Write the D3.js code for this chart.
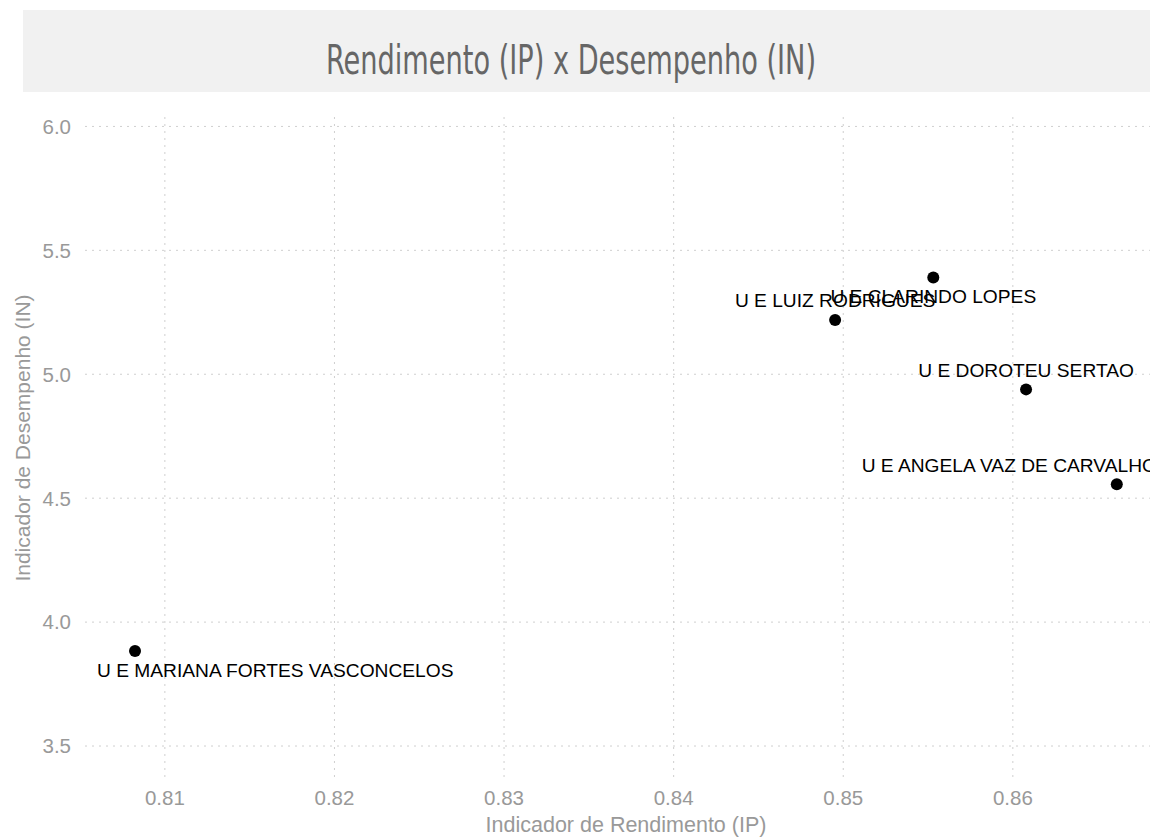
<!DOCTYPE html>
<html>
<head>
<meta charset="utf-8">
<script src="https://cdn.jsdelivr.net/npm/d3@7"></script>
<style>
  html, body { margin: 0; padding: 0; background: #fff; overflow: hidden; }
  svg { display: block; }
</style>
</head>
<body>
<svg id="chart" width="1150" height="837"></svg>
<script>
// ---- data ----
const schools = [
  "U E MARIANA FORTES VASCONCELOS",
  "U E LUIZ RODRIGUES",
  "U E CLARINDO LOPES",
  "U E DOROTEU SERTAO",
  "U E ANGELA VAZ DE CARVALHO"
];
const rendimentoIP = [0.80827, 0.84955, 0.85534, 0.86081, 0.86616];
const desempenhoIN = [3.881, 5.217, 5.388, 4.937, 4.554];
const labelSide = ["below", "above", "below", "above", "above"];
const xTicks = [0.81, 0.82, 0.83, 0.84, 0.85, 0.86];
const yTicks = [3.5, 4.0, 4.5, 5.0, 5.5, 6.0];
const xDomain = [0.80532, 0.86912];
const yDomain = [3.373, 6.036];
const titleText = "Rendimento (IP) x Desempenho (IN)";
const xTitle = "Indicador de Rendimento (IP)";
const yTitle = "Indicador de Desempenho (IN)";

// ---- layout ----
const W = 1150, H = 837;
const plot = { left: 85, right: 1167, top: 117, bottom: 777 };
const svg = d3.select("#chart");
const sans = "'Liberation Sans', Arial, Helvetica, sans-serif";

const x = d3.scaleLinear().domain(xDomain).range([plot.left, plot.right]);
const y = d3.scaleLinear().domain(yDomain).range([plot.bottom, plot.top]);

// title band
svg.append("rect").attr("x", 23).attr("y", 10).attr("width", W - 23).attr("height", 82)
  .attr("fill", "#f1f1f1");
svg.append("text").attr("x", 571).attr("y", 74).attr("text-anchor", "middle")
  .attr("font-family", "'Liberation Sans Narrow', 'DejaVu Sans Condensed', sans-serif")
  .attr("font-size", 41).attr("fill", "#666")
  .attr("textLength", 490).attr("lengthAdjust", "spacingAndGlyphs")
  .text(titleText);

// grid via axes
const gx = svg.append("g").attr("transform", `translate(0,${plot.bottom})`)
  .call(d3.axisBottom(x).tickValues(xTicks).tickSize(-(plot.bottom - plot.top)).tickFormat(d3.format(".2f")));
gx.select(".domain").remove();
gx.selectAll(".tick line").attr("stroke", "#cfcfcf").attr("stroke-dasharray", "2,5");
gx.selectAll(".tick text").attr("y", 28).attr("dy", 0)
  .attr("font-family", sans).attr("font-size", 20.5).attr("fill", "#999");

const gy = svg.append("g").attr("transform", `translate(${plot.left},0)`)
  .call(d3.axisLeft(y).tickValues(yTicks).tickSize(-(plot.right - plot.left)).tickFormat(d3.format(".1f")));
gy.select(".domain").remove();
gy.selectAll(".tick line").attr("stroke", "#cfcfcf").attr("stroke-dasharray", "2,5");
gy.selectAll(".tick text").attr("x", -14).attr("dy", "0.36em")
  .attr("font-family", sans).attr("font-size", 20.5).attr("fill", "#999");

// axis titles
svg.append("text").attr("x", 626).attr("y", 832).attr("text-anchor", "middle")
  .attr("font-family", sans).attr("font-size", 21.5).attr("fill", "#999").text(xTitle);
svg.append("text").attr("transform", "translate(30,438) rotate(-90)").attr("text-anchor", "middle")
  .attr("font-family", sans).attr("font-size", 21).attr("fill", "#999").text(yTitle);

// points
const data = schools.map((s, i) => ({ name: s, ip: rendimentoIP[i], in: desempenhoIN[i], side: labelSide[i] }));
svg.append("g").selectAll("circle").data(data).join("circle")
  .attr("cx", d => x(d.ip)).attr("cy", d => y(d.in)).attr("r", 6).attr("fill", "#000");

// labels (kept inside the plot area horizontally)
const labels = svg.append("g").selectAll("text").data(data).join("text")
  .attr("font-family", sans).attr("font-size", 19.2).attr("fill", "#000")
  .attr("dominant-baseline", "central")
  .attr("y", d => y(d.in) + (d.side === "above" ? -19 : 19))
  .text(d => d.name);
labels.each(function(d) {
  const w = this.getComputedTextLength();
  let left = x(d.ip) - w / 2;
  const minL = plot.left + 12, maxR = plot.right - 10;
  if (left < minL) left = minL;
  if (left + w > maxR) left = maxR - w;
  d3.select(this).attr("x", left);
});
</script>
</body>
</html>
